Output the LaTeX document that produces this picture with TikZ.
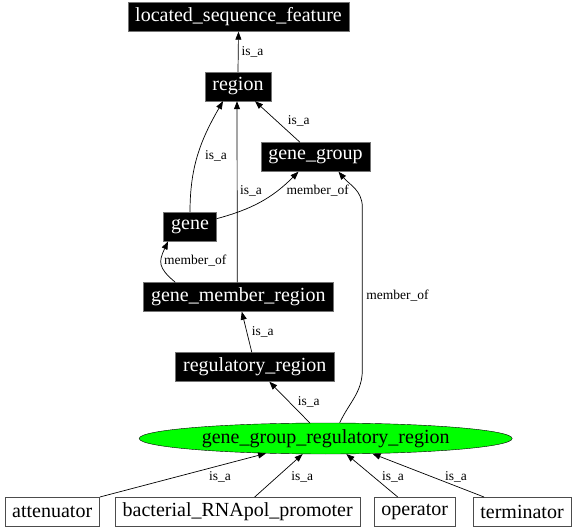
\documentclass[tikz,border=0pt]{standalone}
\usepackage{fontspec}
\newfontfamily\dotfont{Liberation Serif}
\usetikzlibrary{arrows.meta,shapes.geometric}

\begin{document}
\begin{tikzpicture}[x=1pt,y=-1pt,
	termbox/.style={fill=black,draw=black!55,text=white,minimum height=29pt,inner xsep=7.5pt,inner ysep=0pt,font=\dotfont\fontsize{20}{24}\selectfont},
	leafbox/.style={draw=black!70,fill=white,minimum height=29pt,inner xsep=7.5pt,inner ysep=0pt,font=\dotfont\fontsize{20}{24}\selectfont},
	lbl/.style={font=\dotfont\fontsize{13.5}{16}\selectfont,inner sep=0pt},
	rel/.style={-{Triangle[length=8pt,width=6pt]},line width=0.7pt}]
	\useasboundingbox (0,0) rectangle (576,529);
	
	\node[termbox] (lsf) at (238.5,17) {located\_sequence\_feature};
	\node[termbox] (region) at (238,86.5) {region};
	\node[termbox] (gg) at (315.5,157) {gene\_group};
	\node[termbox] (gene) at (190,226.7) {gene};
	\node[termbox] (gmr) at (238.3,297) {gene\_member\_region};
	\node[termbox] (rr) at (254.8,367) {regulatory\_region};
	\node[ellipse,draw=black,fill=green,minimum width=373pt,minimum height=31pt,inner sep=0pt,font=\dotfont\fontsize{20}{24}\selectfont] (ggrr) at (325.7,438.5) {gene\_group\_regulatory\_region};
	
	\node[leafbox] (att) at (52.2,511.7) {attenuator};
	\node[leafbox] (brp) at (237.7,511.7) {bacterial\_RNApol\_promoter};
	\node[leafbox] (op) at (414.7,511.7) {operator};
	\node[leafbox] (term) at (522,511.7) {terminator};
	
	% is_a and member_of links
	\draw[rel] (region.north) -- (lsf.south);
	\node[lbl] (l1) at (252.5,52) {is\_a};
	
	\draw[rel] (gene.north) to[out=90,in=-120] ([xshift=-15pt]region.south);
	\node[lbl] (l2) at (216,156) {is\_a};
	
	\draw[rel] ([xshift=-1pt]gmr.north) -- ([xshift=-1pt]region.south);
	\node[lbl] (l3) at (251,191) {is\_a};
	
	\draw[rel] ([xshift=-15.5pt]gg.north) -- ([xshift=17pt]region.south);
	\node[lbl] (l4) at (298.7,121) {is\_a};
	
	\draw[rel] ([yshift=8pt]gene.east) to[out=15,in=-135] ([xshift=-17pt]gg.south);
	\node[lbl] (l5) at (317.7,191) {member\_of};
	
	\draw[rel] ([xshift=-63pt]gmr.north) to[out=140,in=-115,looseness=1.4] ([xshift=-22pt]gene.south);
	\node[lbl] (l6) at (195.3,261) {member\_of};
	
	\draw[rel] ([xshift=-3pt]rr.north) -- ([xshift=3.5pt]gmr.south);
	\node[lbl] (l7) at (262.8,331.7) {is\_a};
	
	\draw[rel] ([xshift=-16pt]ggrr.north) -- ([xshift=14.5pt]rr.south);
	\node[lbl] (l8) at (308.8,401.7) {is\_a};
	
	\coordinate (mo1) at (362.3,370);
	\coordinate (mo2) at (362.3,207);
	\draw[rel] ([xshift=14pt]ggrr.north) to[out=65,in=-90] (mo1) -- (mo2) to[out=90,in=-50] ([xshift=23pt]gg.south);
	\node[lbl] (l9) at (397.5,296) {member\_of};
	
	\draw[rel] (att.north east) -- (ggrr.194);
	\node[lbl] (l10) at (220,476.7) {is\_a};
	\draw[rel] ([xshift=17pt]brp.north) -- (ggrr.214);
	\node[lbl] (l11) at (302.2,476.7) {is\_a};
	\draw[rel] ([xshift=-17pt]op.north) -- (ggrr.-37);
	\node[lbl] (l12) at (393,476.7) {is\_a};
	\draw[rel] ([xshift=-38pt]term.north) -- (ggrr.-18);
	\node[lbl] (l13) at (456,476.7) {is\_a};
\end{tikzpicture}
\end{document}
